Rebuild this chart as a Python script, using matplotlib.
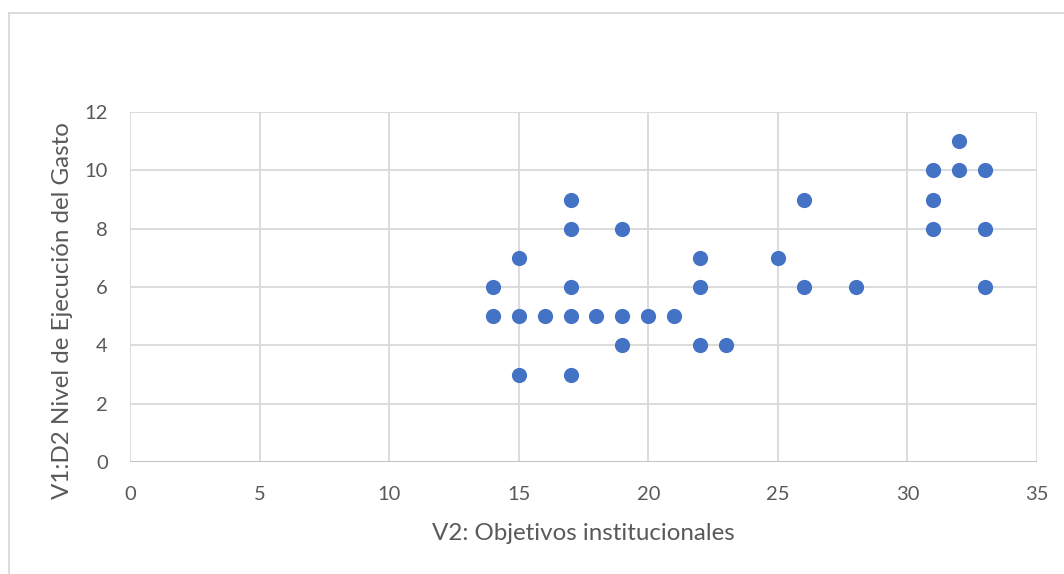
import matplotlib.pyplot as plt
from matplotlib.lines import Line2D

# V2 (x) vs V1:D2 (y)
x = [14, 14, 15, 15, 15, 16, 17, 17, 17, 17, 17, 18, 19, 19, 19, 20, 21,
     22, 22, 22, 23, 25, 26, 26, 28, 31, 31, 31, 32, 32, 33, 33, 33]
y = [6, 5, 7, 5, 3, 5, 9, 8, 6, 5, 3, 5, 8, 5, 4, 5, 5,
     7, 6, 4, 4, 7, 9, 6, 6, 10, 9, 8, 11, 10, 10, 8, 6]

xticks = [0, 5, 10, 15, 20, 25, 30, 35]
yticks = [0, 2, 4, 6, 8, 10, 12]

plt.rcParams['font.family'] = ['Lato', 'DejaVu Sans']

fig = plt.figure(figsize=(10.64, 5.74), dpi=100)
ax = fig.add_axes([130/1064, 1-462/574, (1037-130)/1064, (462-112)/574])

ax.scatter(x, y, s=120, color='#4472C4', zorder=3, linewidths=0)

ax.set_xlim(0, 35)
ax.set_ylim(0, 12)
ax.set_xticks(xticks)
ax.set_yticks(yticks)
ax.grid(True, color='#D9D9D9', linewidth=1.3)
ax.set_axisbelow(True)
for s in ax.spines.values():
    s.set_visible(False)
ax.axhline(0, color='#BFBFBF', linewidth=1.3, zorder=2)
ax.tick_params(length=0, labelsize=14.5, labelcolor='#595959')
ax.tick_params(axis='x', pad=17)
ax.tick_params(axis='y', pad=16)

ax.set_xlabel('V2: Objetivos institucionales', fontsize=17.4, color='#595959', labelpad=15)
ax.set_ylabel('V1:D2 Nivel de Ejecución del Gasto', fontsize=17.4, color='#595959')
ax.yaxis.set_label_coords(-0.063, 0.434)

# chart frame
fig.add_artist(Line2D([9/1064, 9/1064], [0, 1-13/574], color='#D9D9D9', linewidth=1.3, transform=fig.transFigure))
fig.add_artist(Line2D([9/1064, 1], [1-13/574, 1-13/574], color='#D9D9D9', linewidth=1.3, transform=fig.transFigure))

fig.savefig('out.png', dpi=100, facecolor='white')
